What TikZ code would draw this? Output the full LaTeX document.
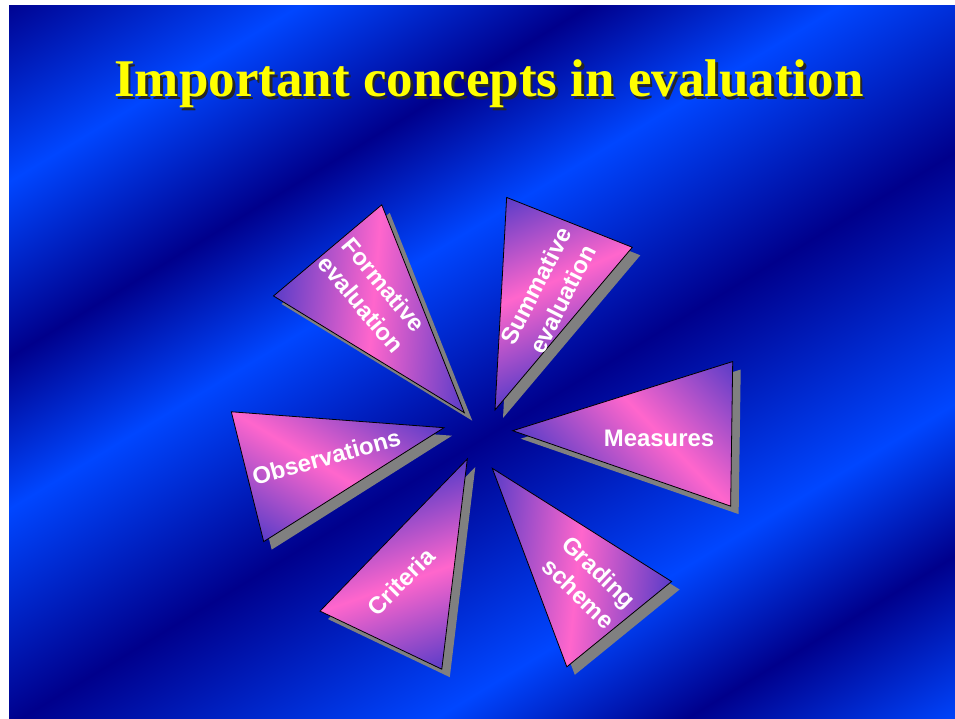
\documentclass[tikz,border=0pt]{standalone}
\usepackage{fontspec}
\setmainfont{Liberation Serif}
\setsansfont{Liberation Sans}
\usepackage{xcolor}
\usepackage{tikz}

\definecolor{bgdark}{RGB}{0,0,140}
\definecolor{bgbright}{RGB}{0,70,255}
\definecolor{petalpink}{RGB}{255,102,204}
\definecolor{petalpurple}{RGB}{90,60,200}
\definecolor{titleyellow}{RGB}{255,255,0}
\pgfdeclarehorizontalshading{slidebg}{100bp}{color(0bp)=(bgdark); color(25bp)=(bgdark); color(31.67bp)=(bgbright); color(37.92bp)=(bgdark); color(43.33bp)=(bgbright); color(51.04bp)=(bgdark); color(60bp)=(bgbright); color(65.42bp)=(bgdark); color(71.46bp)=(bgbright); color(100bp)=(bgbright)}
\pgfdeclarehorizontalshading{petal}{100bp}{color(0bp)=(petalpurple); color(25bp)=(petalpurple); color(50bp)=(petalpink); color(75bp)=(petalpurple); color(100bp)=(petalpurple)}

\begin{document}
\begin{tikzpicture}[x=1pt,y=1pt]
\tikzstyle{petalshadow}=[fill=gray]
\tikzstyle{petalfill}=[shading=petal,draw=black,line width=0.8pt]
\tikzstyle{petallabel}=[text=white,font=\sffamily\bfseries\fontsize{23.9}{30}\selectfont,align=center,inner sep=0pt]
\useasboundingbox (0,0) rectangle (955,-719);
\fill [white] (0,0) rectangle (955,-719);
\begin{scope}
\clip (9,-6) rectangle (955,-719);
\begin{scope}[transform canvas={rotate=-58.8}]
\shade [shading=slidebg] (0,-1000) rectangle (1200,1000);
\end{scope}
\end{scope}
\node [anchor=base,text=black!85,font=\bfseries\fontsize{53}{60}\selectfont] (titleshade) at (491.5,-99.2) {Important concepts in evaluation};
\node [anchor=base,text=titleyellow,font=\bfseries\fontsize{53}{60}\selectfont] (title) at (489,-96.7) {Important concepts in evaluation};
% formative evaluation
\fill [petalshadow,shift={(472.3,-420.7)},rotate=130.1] (0,0) -- (212.2,70.75) -- (212.2,-70.75) -- cycle;
\begin{scope}[transform canvas={shift={(464.3,-412.7)},rotate=175.1}]
\shade [petalfill,rotate=-45] (0,0) -- (212.2,70.75) -- (212.2,-70.75) -- cycle;
\end{scope}
\node [petallabel,rotate=-50] (formative) at (372.5,-294.5) {Formative\\evaluation};
% summative evaluation
\fill [petalshadow,shift={(503,-418)},rotate=68.35] (0,0) -- (201.9,67.6) -- (201.9,-67.6) -- cycle;
\begin{scope}[transform canvas={shift={(495,-410)},rotate=113.35}]
\shade [petalfill,rotate=-45] (0,0) -- (201.9,67.6) -- (201.9,-67.6) -- cycle;
\end{scope}
\node [petallabel,rotate=63] (summative) at (549,-292.5) {Summative\\evaluation};
% measures
\fill [petalshadow,shift={(520.7,-438.7)},rotate=-0.82] (0,0) -- (219,72.3) -- (219,-72.3) -- cycle;
\begin{scope}[transform canvas={shift={(512.7,-430.7)},rotate=44.18}]
\shade [petalfill,rotate=-45] (0,0) -- (219,72.3) -- (219,-72.3) -- cycle;
\end{scope}
\node [petallabel] (measures) at (659,-438) {Measures};
% grading scheme
\fill [petalshadow,shift={(500.3,-476.3)},rotate=-50.85] (0,0) -- (201,67.55) -- (201,-67.55) -- cycle;
\begin{scope}[transform canvas={shift={(492.3,-468.3)},rotate=-5.85}]
\shade [petalfill,rotate=-45] (0,0) -- (201,67.55) -- (201,-67.55) -- cycle;
\end{scope}
\node [petallabel,rotate=-44] (grading) at (589,-582.5) {Grading\\scheme};
% criteria
\fill [petalshadow,shift={(475.3,-467)},rotate=-115.5] (0,0) -- (200.7,67.45) -- (200.7,-67.45) -- cycle;
\begin{scope}[transform canvas={shift={(467.3,-459)},rotate=-70.5}]
\shade [petalfill,rotate=-45] (0,0) -- (200.7,67.45) -- (200.7,-67.45) -- cycle;
\end{scope}
\node [petallabel,rotate=45] (criteria) at (400.8,-581.7) {Criteria};
% observations
\fill [petalshadow,shift={(452,-435.7)},rotate=-166] (0,0) -- (202.5,66.9) -- (202.5,-66.9) -- cycle;
\begin{scope}[transform canvas={shift={(444,-427.7)},rotate=-121}]
\shade [petalfill,rotate=-45] (0,0) -- (202.5,66.9) -- (202.5,-66.9) -- cycle;
\end{scope}
\node [petallabel,rotate=15.7] (observations) at (326.3,-457) {Observations};
\end{tikzpicture}
\end{document}
